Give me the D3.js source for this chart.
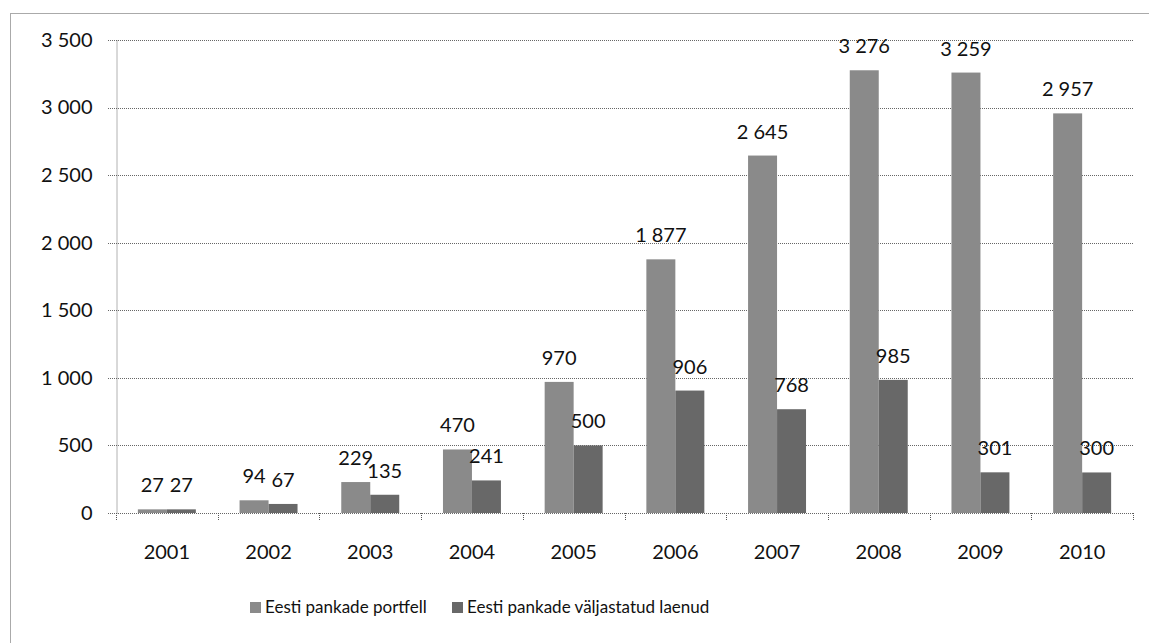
<!DOCTYPE html>
<html>
<head>
<meta charset="utf-8">
<script src="https://cdn.jsdelivr.net/npm/d3@7"></script>
<style>
  body { margin: 0; background: #fff; }
  text { font-family: Lato, "Open Sans", sans-serif; fill: #111; }
</style>
</head>
<body>
<svg width="1149" height="643"></svg>
<script>
var years = ["2001", "2002", "2003", "2004", "2005", "2006", "2007", "2008", "2009", "2010"];
var portfell = [27, 94, 229, 470, 970, 1877, 2645, 3276, 3259, 2957];
var laenud = [27, 67, 135, 241, 500, 906, 768, 985, 301, 300];
var seriesNames = ["Eesti pankade portfell", "Eesti pankade väljastatud laenud"];
var seriesColors = ["#8a8a8a", "#686868"];
var yTicks = [0, 500, 1000, 1500, 2000, 2500, 3000, 3500];

var data = years.map((y, i) => ({year: y, values: [portfell[i], laenud[i]]}));

var svg = d3.select("svg");
var fmt = d3.formatLocale({decimal: ",", thousands: "\u202F", grouping: [3], currency: ["", ""]}).format(",d");

// outer frame (runs off the right and bottom edge like the scan)
svg.append("rect")
    .attr("x", 10.5).attr("y", 13.5)
    .attr("width", 1200).attr("height", 700)
    .attr("fill", "none")
    .attr("stroke", "#555")
    .attr("stroke-dasharray", "1,1");

var plotLeft = 116, plotRight = 1133, plotTop = 40, plotBottom = 513;

var x0 = d3.scaleBand().domain(years).range([plotLeft, plotRight])
    .paddingInner(0.43).paddingOuter(0.215);
var x1 = d3.scaleBand().domain([0, 1]).range([0, x0.bandwidth()]);
var y = d3.scaleLinear().domain([0, 3500]).range([plotBottom, plotTop]);

// grid
svg.append("g").selectAll("line")
    .data(yTicks)
    .join("line")
    .attr("x1", plotLeft - 8).attr("x2", plotRight)
    .attr("y1", d => Math.round(y(d)) + 0.5).attr("y2", d => Math.round(y(d)) + 0.5)
    .attr("stroke", "#666")
    .attr("stroke-dasharray", "1,1");

// y axis
var yAxis = svg.append("g")
    .attr("transform", "translate(" + (plotLeft + 0.5) + ",0)")
    .call(d3.axisLeft(y).tickValues(yTicks).tickFormat(fmt).tickSize(0).tickPadding(24));
yAxis.select(".domain").attr("stroke", "#666").attr("stroke-dasharray", "1,1");
yAxis.selectAll("text").style("font-size", "20px").style("font-family", "Lato, sans-serif").attr("fill", "#111");

// x ticks at category boundaries
var bounds = years.map(d => x0(d) - x0.step() * x0.paddingInner() / 2).concat([plotRight]);
svg.append("g").selectAll("line")
    .data(bounds)
    .join("line")
    .attr("x1", d => Math.round(d) + 0.5).attr("x2", d => Math.round(d) + 0.5)
    .attr("y1", plotBottom).attr("y2", plotBottom + 7)
    .attr("stroke", "#555")
    .attr("stroke-dasharray", "1,1");

// x labels
svg.append("g").selectAll("text")
    .data(years)
    .join("text")
    .attr("x", d => x0(d) + x0.bandwidth() / 2)
    .attr("y", 552)
    .attr("dy", "0.35em")
    .attr("text-anchor", "middle")
    .style("font-size", "20px")
    .text(d => d);

// bars
var groups = svg.append("g").selectAll("g")
    .data(data)
    .join("g")
    .attr("transform", d => "translate(" + x0(d.year) + ",0)");

groups.selectAll("rect")
    .data(d => d.values.map((v, i) => ({i: i, v: v})))
    .join("rect")
    .attr("x", d => x1(d.i))
    .attr("width", x1.bandwidth())
    .attr("y", d => y(d.v))
    .attr("height", d => plotBottom - y(d.v))
    .attr("fill", d => seriesColors[d.i]);

groups.selectAll("text")
    .data(d => d.values.map((v, i) => ({i: i, v: v})))
    .join("text")
    .attr("x", d => x1(d.i) + x1.bandwidth() / 2)
    .attr("y", d => y(d.v) - 24)
    .attr("dy", "0.35em")
    .attr("text-anchor", "middle")
    .style("font-size", "20px")
    .text(d => fmt(d.v));

// legend
var legend = svg.append("g");
var legX = [250, 452];
seriesNames.forEach(function(name, i) {
  legend.append("rect")
      .attr("x", legX[i]).attr("y", 602)
      .attr("width", 11).attr("height", 11)
      .attr("fill", seriesColors[i]);
  legend.append("text")
      .attr("x", legX[i] + 15).attr("y", 607)
      .attr("dy", "0.35em")
      .style("font-size", "17px")
      .text(name);
});
</script>
</body>
</html>
